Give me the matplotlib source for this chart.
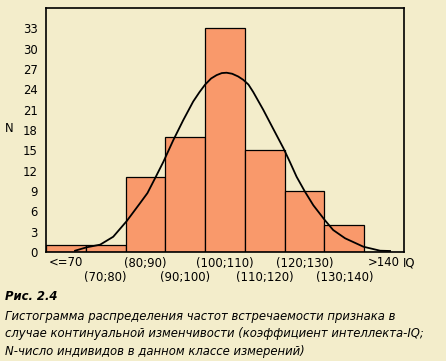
import matplotlib
matplotlib.use("Agg")
import matplotlib.pyplot as plt
import matplotlib.transforms as mtransforms

# ---- data ----
bin_edges = [60, 70, 80, 90, 100, 110, 120, 130, 140, 150]
counts = [1, 1, 11, 17, 33, 15, 9, 4, 0]
tick_labels = ["<=70", "(70;80)", "(80;90)", "(90;100)", "(100;110)",
               "(110;120)", "(120;130)", "(130;140)", ">140"]
y_ticks = [0, 3, 6, 9, 12, 15, 18, 21, 24, 27, 30, 33]

curve_x = [67.3, 70.2, 73.6, 76.9, 80.3, 83.6, 85.5, 87.4, 89.5, 92.0, 94.5,
           97.0, 98.6, 100.0, 101.5, 102.9, 104.2, 105.4, 106.8, 108.3,
           109.6, 110.9, 112.1, 114.6, 117.1,
           119.7, 121.3, 123.0, 125.1, 127.2, 130.1, 132.2, 135.2, 139.8,
           144.0, 146.5]
curve_y = [0.19, 0.69, 1.08, 2.25, 4.57, 7.17, 8.69, 10.86, 13.3, 16.5, 19.45,
           22.2, 23.6, 24.7, 25.6, 26.1, 26.4, 26.45, 26.3, 25.9,
           25.4, 24.7, 23.6, 21.0, 18.2,
           15.3, 13.3, 11.1, 8.9, 6.9, 4.7, 3.24, 2.02, 0.78,
           0.19, 0.15]

caption_title = "Рис. 2.4"
caption_lines = [
    "Гистограмма распределения частот встречаемости признака в",
    "случае континуальной изменчивости (коэффициент интеллекта-IQ;",
    "N-число индивидов в данном классе измерений)",
]

BG = "#F3EDCB"
BAR = "#F9996B"
W, H = 446, 361
FS = 8.4

fig = plt.figure(figsize=(W / 100, H / 100), dpi=100, facecolor=BG)
ax = fig.add_axes([46 / W, (H - 252) / H, 358 / W, 244 / H])
ax.set_facecolor(BG)

lefts = bin_edges[:-1]
widths = [b - a for a, b in zip(bin_edges[:-1], bin_edges[1:])]
ax.bar(lefts, counts, width=widths, align="edge", color=BAR,
       edgecolor="black", linewidth=0.9, zorder=2)
ax.plot(curve_x, curve_y, color="black", linewidth=1.3, zorder=3,
        solid_joinstyle="round")

ax.set_xlim(bin_edges[0], bin_edges[-1])
ax.set_ylim(0, 36)
ax.set_yticks(y_ticks)
ax.set_yticklabels([str(v) for v in y_ticks], fontsize=FS)
ax.tick_params(axis="y", length=0, pad=6)
ax.set_xticks([])

centers = [(a + b) / 2 for a, b in zip(bin_edges[:-1], bin_edges[1:])]
tr = mtransforms.blended_transform_factory(ax.transData, fig.transFigure)
for i, (c, lab) in enumerate(zip(centers, tick_labels)):
    ypix = 263 if i % 2 == 0 else 278
    ax.text(c, (H - ypix) / H, lab, transform=tr, ha="center",
            va="center", fontsize=FS)

fig.text(403 / W, (H - 263) / H, "IQ", ha="left", va="center", fontsize=FS)
fig.text(9 / W, (H - 129) / H, "N", ha="center", va="center", fontsize=FS)

for s in ax.spines.values():
    s.set_linewidth(1.2)
    s.set_color("black")

fig.text(5 / W, (H - 297) / H, caption_title, ha="left", va="center",
         fontsize=FS, fontweight="bold", fontstyle="italic")
for k, line in enumerate(caption_lines):
    ypix = [316.5, 334, 351.5][k]
    fig.text(5 / W, (H - ypix) / H, line, ha="left", va="center",
             fontsize=FS, fontstyle="italic")

fig.savefig("out.png", dpi=100, facecolor=BG)
